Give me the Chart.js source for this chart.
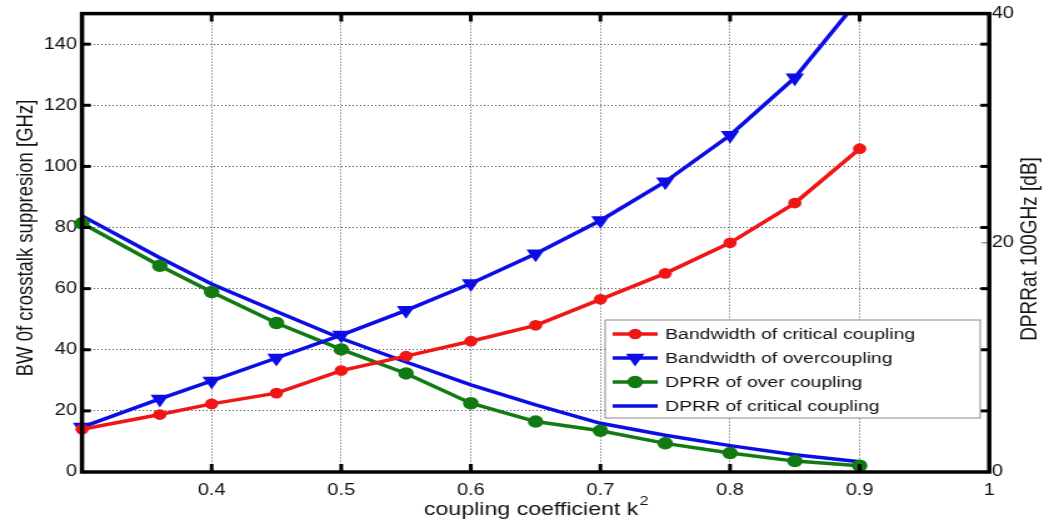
<!DOCTYPE html>
<html>
<head>
<meta charset="utf-8">
<title>Crosstalk suppression vs coupling coefficient</title>
<script src="https://cdn.jsdelivr.net/npm/chart.js@4.4.1/dist/chart.umd.min.js"></script>
<style>
  html, body { margin: 0; padding: 0; background: #fff; }
</style>
</head>
<body>
<!-- drawn at 835 px wide and shown at 1044 px, so text and markers come out wide -->
<canvas id="sweep-chart" width="835" height="524" style="display:block;width:1044px;height:524px"></canvas>
<script>
// coupling coefficient k^2
const kValues = [0.3, 0.36, 0.4, 0.45, 0.5, 0.55, 0.6, 0.65, 0.7, 0.75, 0.8, 0.85, 0.9];

// bandwidth of crosstalk suppression [GHz], left axis
const bwCritical = [14.0, 18.8, 22.3, 25.8, 33.2, 37.9, 42.8, 48.0, 56.5, 65.0, 75.0, 88.0, 105.8];
const bwOver = [14.7, 23.9, 29.8, 37.3, 44.8, 52.9, 61.7, 71.4, 82.3, 95.0, 110.2, 129.0, 155.0];

// DPRR at 100 GHz [dB], right axis
const dprrOver = [21.7, 18.0, 15.7, 13.0, 10.7, 8.6, 6.0, 4.4, 3.6, 2.5, 1.65, 0.95, 0.55];
const dprrCritical = [22.35, 18.7, 16.4, 14.0, 11.65, 9.6, 7.6, 5.85, 4.25, 3.2, 2.3, 1.5, 0.9];

const xTicks = [0.3, 0.4, 0.5, 0.6, 0.7, 0.8, 0.9, 1];
const leftTicks = [0, 20, 40, 60, 80, 100, 120, 140];
const rightTicks = [0, 20, 40];

const FONT = '"Liberation Sans", Arial, Helvetica, sans-serif';
const RED = "rgb(240, 22, 22)";
const BLUE = "rgb(12, 12, 228)";
const GREEN = "rgb(18, 122, 18)";

const toPoints = (ys) => kValues.map((k, i) => ({ x: k, y: ys[i] }));
const fixedTicks = (values) => (scale) => {
    scale.ticks = values.map((value) => ({ value }));
};

const framePlugin = {
    id: "matlabFrame",
    afterDatasetsDraw(chart) {
        const { ctx, chartArea: a, scales } = chart;
        const seg = (x1, y1, x2, y2) => {
            ctx.beginPath();
            ctx.moveTo(x1, y1);
            ctx.lineTo(x2, y2);
            ctx.stroke();
        };

        ctx.save();
        ctx.strokeStyle = "#000";

        // inward tick marks, mirrored on the opposite side
        ctx.lineWidth = 3;
        leftTicks.forEach((v) => {
            if (v === 0) return;
            const y = scales.y.getPixelForValue(v);
            seg(a.left, y, a.left + 7, y);
            seg(a.right - 7, y, a.right, y);
        });
        xTicks.forEach((v) => {
            if (v === 0.3 || v === 1) return;
            const x = scales.x.getPixelForValue(v);
            seg(x, a.bottom, x, a.bottom - 8);
            seg(x, a.top, x, a.top + 8);
        });
        ctx.lineWidth = 1;
        ctx.strokeStyle = "#666";
        const y20 = scales.y1.getPixelForValue(20);
        seg(a.right - 6, y20, a.right, y20);

        // axes box
        ctx.strokeStyle = "#000";
        ctx.lineWidth = 3.5;
        ctx.strokeRect(a.left, a.top, a.right - a.left, a.bottom - a.top);

        // legend
        const box = { left: 484, top: 320, right: 784, bottom: 418 };
        ctx.fillStyle = "#fff";
        ctx.fillRect(box.left, box.top, box.right - box.left, box.bottom - box.top);
        ctx.lineWidth = 1;
        ctx.strokeStyle = "#8a8a8a";
        ctx.strokeRect(box.left, box.top, box.right - box.left, box.bottom - box.top);
        ctx.font = `15.5px ${FONT}`;
        ctx.textBaseline = "middle";
        ctx.textAlign = "left";
        chart.data.datasets.forEach((ds, i) => {
            const y = 334 + i * 24;
            ctx.strokeStyle = ds.borderColor;
            ctx.lineWidth = ds.borderWidth;
            seg(490, y, 526, y);
            if (ds.pointRadius > 0) {
                ctx.fillStyle = ds.borderColor;
                ctx.strokeStyle = ds.borderColor;
                Chart.helpers.drawPoint(ctx, {
                    pointStyle: ds.pointStyle,
                    rotation: ds.pointRotation || 0,
                    radius: ds.pointRadius,
                    borderWidth: 1,
                }, 508, y);
            }
            ctx.fillStyle = "#111";
            ctx.fillText(ds.label, 532, y + 1);
        });

        // axis titles
        ctx.fillStyle = "#111";
        ctx.font = `18.5px ${FONT}`;
        ctx.textAlign = "center";
        ctx.textBaseline = "middle";

        ctx.save();
        ctx.translate(21, 238);
        ctx.rotate(-Math.PI / 2);
        ctx.fillText("BW 0f crosstalk suppresion [GHz]", 0, 0);
        ctx.restore();

        ctx.save();
        ctx.font = `19px ${FONT}`;
        ctx.translate(824, 249);
        ctx.rotate(-Math.PI / 2);
        ctx.fillText("DPRRat 100GHz [dB]", 0, 0);
        ctx.restore();

        const xTitle = "coupling coefficient k";
        const mainW = ctx.measureText(xTitle).width;
        ctx.font = `13px ${FONT}`;
        const supW = ctx.measureText("2").width;
        const startX = (a.left + a.right) / 2 - (mainW + supW) / 2;
        ctx.textAlign = "left";
        ctx.font = `18.5px ${FONT}`;
        ctx.fillText(xTitle, startX, 510);
        ctx.font = `13px ${FONT}`;
        ctx.fillText("2", startX + mainW + 1, 501);

        ctx.restore();
    },
};

const tickFont = { family: FONT, size: 16 };

new Chart(document.getElementById("sweep-chart"), {
    type: "line",
    data: {
        datasets: [
            {
                label: "Bandwidth of critical coupling",
                data: toPoints(bwCritical),
                yAxisID: "y",
                borderColor: RED,
                backgroundColor: RED,
                borderWidth: 3.5,
                pointStyle: "circle",
                pointRadius: 3.6,
                clip: false,
            },
            {
                label: "Bandwidth of overcoupling",
                data: toPoints(bwOver),
                yAxisID: "y",
                borderColor: BLUE,
                backgroundColor: BLUE,
                borderWidth: 3.5,
                pointStyle: "triangle",
                pointRotation: 180,
                pointRadius: 5,
                clip: { left: 8, top: 0, right: 8, bottom: 8 },
            },
            {
                label: "DPRR of over coupling",
                data: toPoints(dprrOver),
                yAxisID: "y1",
                borderColor: GREEN,
                backgroundColor: GREEN,
                borderWidth: 3.5,
                pointStyle: "circle",
                pointRadius: 4.5,
                clip: false,
            },
            {
                label: "DPRR of critical coupling",
                data: toPoints(dprrCritical),
                yAxisID: "y1",
                borderColor: BLUE,
                backgroundColor: BLUE,
                borderWidth: 3.5,
                pointRadius: 0,
                clip: false,
            },
        ],
    },
    options: {
        responsive: false,
        devicePixelRatio: 1,
        animation: false,
        events: [],
        layout: { padding: { top: 12, left: 0, right: 0, bottom: 0 } },
        elements: { line: { tension: 0 }, point: { borderWidth: 1 } },
        plugins: { legend: { display: false }, tooltip: { enabled: false } },
        scales: {
            x: {
                type: "linear",
                min: 0.3,
                max: 1,
                afterBuildTicks: fixedTicks(xTicks),
                afterFit: (scale) => { scale.height = 52; },
                grid: { color: "rgba(0,0,0,0.7)", lineWidth: 1, drawTicks: false },
                border: { display: false, dash: [1, 2] },
                ticks: {
                    font: tickFont,
                    color: "#111",
                    padding: 9,
                    autoSkip: false,
                    maxRotation: 0,
                    callback: (v) => (v === 0.3 ? "" : String(v)),
                },
            },
            y: {
                position: "left",
                min: 0,
                max: 150,
                afterBuildTicks: fixedTicks(leftTicks),
                afterFit: (scale) => { scale.width = 65.6; },
                grid: { color: "rgba(0,0,0,0.7)", lineWidth: 1, drawTicks: false },
                border: { display: false, dash: [1, 2] },
                ticks: { font: tickFont, color: "#111", padding: 4, autoSkip: false },
            },
            y1: {
                position: "right",
                min: 0,
                max: 40,
                afterBuildTicks: fixedTicks(rightTicks),
                afterFit: (scale) => { scale.width = 43.8; },
                grid: { display: false, drawTicks: false },
                border: { display: false },
                ticks: { font: tickFont, color: "#111", padding: 2, autoSkip: false },
            },
        },
    },
    plugins: [framePlugin],
});
</script>
</body>
</html>
